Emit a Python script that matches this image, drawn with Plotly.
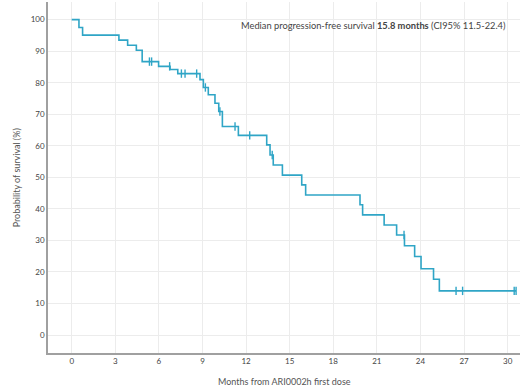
import numpy as np
import plotly.graph_objects as go

# Kaplan-Meier step data (time in months, survival % after event)
event_times = [0, 0.5, 0.75, 3.25, 3.85, 4.45, 4.85, 5.98, 6.77, 7.3, 8.83, 9.06, 9.4, 9.86,
               10.12, 10.37, 11.47, 13.42, 13.65, 13.87, 14.5, 15.83, 16.1, 19.84, 20.02,
               21.5, 22.36, 22.9, 23.6, 24.04, 24.9, 25.3]
survival = [100, 97.5, 95.1, 93.5, 91.9, 90.3, 86.7, 85.2, 84.2, 82.9, 81.0, 78.5, 76.2, 73.5,
            70.9, 66.1, 63.3, 60.3, 57.1, 53.9, 50.7, 47.6, 44.4, 41.3, 38.1,
            34.9, 31.7, 28.3, 24.9, 21.0, 17.7, 14.0]
last_followup = 30.58
censor_times = [5.35, 5.5, 6.74, 7.55, 7.8, 8.6, 9.2, 10.2, 11.24, 12.25, 13.8, 22.87,
                26.45, 26.9, 30.45, 30.58]

x_ticks = list(range(0, 31, 3))
y_ticks = list(range(0, 101, 10))

line_color = "#2fa5c6"

xs = event_times + [last_followup]
ys = survival + [survival[-1]]

def surv_at(t):
    idx = np.searchsorted(np.array(event_times), t, side="right") - 1
    return survival[idx]

censor_y = [surv_at(t) for t in censor_times]

fig = go.Figure()
fig.add_trace(go.Scatter(x=xs, y=ys, mode="lines", line=dict(shape="hv", color=line_color, width=1.6),
                         hoverinfo="skip", showlegend=False))
fig.add_trace(go.Scatter(x=censor_times, y=censor_y, mode="markers",
                         marker=dict(symbol="line-ns-open", size=6, color=line_color,
                                     line=dict(color=line_color, width=1.4)),
                         showlegend=False))

fig.add_annotation(x=30.0, y=98, xref="x", yref="y", xanchor="right", yanchor="middle",
                   text="Median progression-free survival <b>15.8 months</b> (CI95% 11.5-22.4)",
                   showarrow=False, font=dict(family="Lato", size=9.3, color="#444"))

# axis titles
fig.add_annotation(x=0.5, y=-0.08, xref="paper", yref="paper", xanchor="center", yanchor="middle",
                   text="Months from ARI0002h first dose", showarrow=False,
                   font=dict(family="Lato", size=9, color="#555"))
fig.add_annotation(x=-0.066, y=0.5, xref="paper", yref="paper", xanchor="center", yanchor="middle",
                   text="Probability of survival (%)", showarrow=False, textangle=-90,
                   font=dict(family="Lato", size=9, color="#555"))

fig.update_layout(
    width=523, height=387,
    margin=dict(l=48, r=3, t=2, b=34),
    plot_bgcolor="white", paper_bgcolor="white",
    font=dict(family="Lato", size=8, color="#555"),
)
fig.update_xaxes(range=[-1.63, 30.85], tickvals=x_ticks, showgrid=True, gridcolor="#ececec", gridwidth=1,
                 zeroline=False, showline=True, linecolor="#a0a0a0", linewidth=1.5, ticks="",
                 automargin=False, tickfont=dict(size=8, color="#444"))
fig.update_yaxes(range=[-5.7, 105.6], tickvals=y_ticks, showgrid=True, gridcolor="#ececec", gridwidth=1,
                 zeroline=False, showline=True, linecolor="#a0a0a0", linewidth=1.5, ticks="",
                 automargin=False, tickfont=dict(size=8, color="#444"))

fig.write_html("out.html", config={"displayModeBar": False},
               post_script="document.body.style.margin='0';document.body.style.padding='0';")
